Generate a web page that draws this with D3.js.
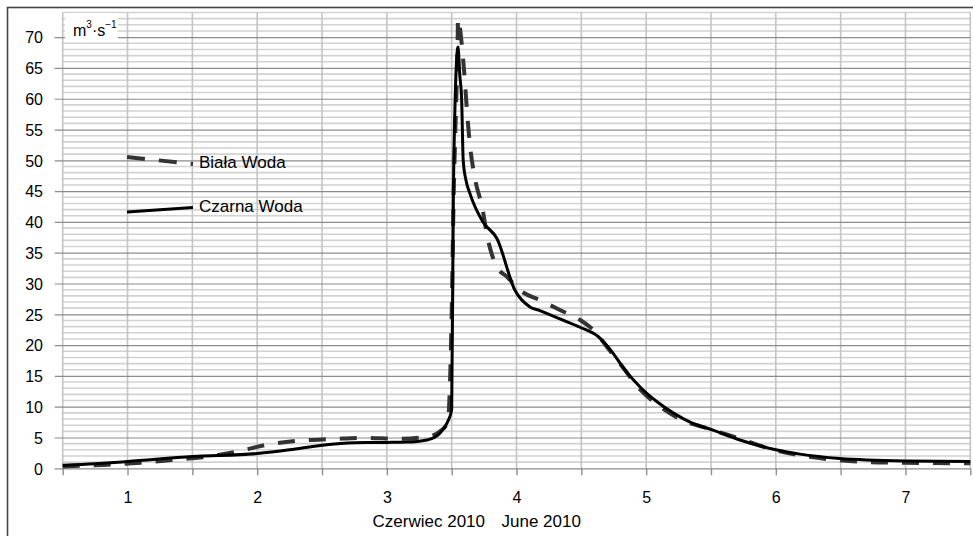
<!DOCTYPE html>
<html lang="pl">
<head>
    <meta charset="UTF-8">
    <title>Biała Woda / Czarna Woda - przepływ, czerwiec 2010</title>
    <script src="https://d3js.org/d3.v7.min.js"></script>
    <style>
        body {
            margin: 0;
            background: #fff;
        }

        svg text {
            font-family: "Liberation Sans", Arial, sans-serif;
            fill: #000;
        }

        .tick-label {
            font-size: 16px;
        }

        .legend-label,
        .axis-title {
            font-size: 17px;
        }

        .flow-line {
            fill: none;
            stroke-linejoin: round;
        }
    </style>
</head>
<body>
    <div id="chart"></div>

    <script>
        // Days of June 2010 shown on the x axis
        const dayTicks = [1, 2, 3, 4, 5, 6, 7];
        const yTicks = [0, 5, 10, 15, 20, 25, 30, 35, 40, 45, 50, 55, 60, 65, 70];

        // Biała Woda (dashed) - discharge m3/s
        const bialaDays = [0.5, 0.81, 1.10, 1.34, 1.58, 1.84, 2.08, 2.32, 2.58, 2.83, 3.08, 3.33, 3.41, 3.47,
            3.50, 3.515, 3.53, 3.545, 3.549, 3.577, 3.603, 3.618, 3.641, 3.68, 3.734, 3.78, 3.849, 3.927,
            4.027, 4.181, 4.335, 4.49, 4.59, 4.698, 4.798, 4.953, 5.107, 5.261, 5.5, 5.724, 6.0, 6.186,
            6.494, 6.725, 6.996, 7.5];
        const bialaFlow = [0.3, 0.55, 0.9, 1.35, 1.8, 2.7, 3.85, 4.5, 4.75, 4.95, 4.8, 5.2, 6.0, 7.5,
            25, 44, 56, 68, 73, 69, 62.5, 58, 52.5, 47, 42.5, 37.1, 32.7, 31.1,
            28.9, 27.3, 25.7, 24.1, 22.5, 19.7, 17, 12.8, 10.0, 8.0, 6.3, 4.8, 2.9, 2.1,
            1.3, 1.0, 0.9, 0.8];

        // Czarna Woda (solid) - discharge m3/s
        const czarnaDays = [0.5, 0.75, 1.0, 1.5, 2.0, 2.25, 2.5, 2.75, 3.0, 3.15, 3.31, 3.41, 3.47,
            3.50, 3.513, 3.527, 3.549, 3.562, 3.577, 3.589, 3.61, 3.641, 3.741, 3.849, 3.988, 4.104,
            4.18, 4.33, 4.49, 4.629, 4.744, 4.821, 4.953, 5.084, 5.208, 5.339, 5.516, 5.724, 6.0, 6.186,
            6.494, 6.996, 7.5];
        const czarnaFlow = [0.5, 0.75, 1.1, 1.9, 2.4, 3.0, 3.75, 4.15, 4.2, 4.25, 4.6, 5.7, 7.6,
            9.5, 44, 60, 68.4, 64, 59.8, 50, 46.8, 44.6, 40, 37.3, 28.9, 26.2,
            25.6, 24.3, 22.9, 21.4, 18.7, 16.4, 13.2, 10.8, 9.0, 7.5, 6.2, 4.6, 3.0, 2.3,
            1.6, 1.2, 1.1];

        const totalWidth = 973, totalHeight = 536;
        const plot = { left: 62.7, right: 970.3, top: 12.5, bottom: 468.3 };

        const svg = d3.select("#chart")
            .append("svg")
            .attr("width", totalWidth)
            .attr("height", totalHeight);

        // outer frame (runs off the right and bottom edge)
        svg.append("rect")
            .attr("x", 7.5)
            .attr("y", 7.5)
            .attr("width", 1000)
            .attr("height", 600)
            .attr("fill", "#fff")
            .attr("stroke", "#444")
            .attr("stroke-width", 1.6);

        const x = d3.scaleLinear().domain([0.5, 7.5]).range([plot.left, plot.right]);
        const y = d3.scaleLinear().domain([0, 74]).range([plot.bottom, plot.top]);

        // minor horizontal grid (every 1 m3/s)
        const grid = svg.append("g").attr("class", "grid");
        grid.selectAll(".minor")
            .data(d3.range(1, 75).filter(v => v % 5 !== 0))
            .join("line")
            .attr("class", "minor")
            .attr("x1", plot.left).attr("x2", plot.right)
            .attr("y1", d => y(d)).attr("y2", d => y(d))
            .attr("stroke", "#d2d2d2")
            .attr("stroke-width", 1.6);

        // vertical grid every half day
        grid.selectAll(".vgrid")
            .data(d3.range(0.5, 7.51, 0.5))
            .join("line")
            .attr("class", "vgrid")
            .attr("x1", d => x(d)).attr("x2", d => x(d))
            .attr("y1", plot.top).attr("y2", plot.bottom)
            .attr("stroke", "#c4c4c4")
            .attr("stroke-width", 1.6);

        // y axis: major lines double as gridlines, ticks stick out on the left
        const yAxis = d3.axisLeft(y)
            .tickValues(yTicks)
            .tickSize(plot.right - plot.left + 8)
            .tickPadding(12)
            .tickFormat(d3.format("d"));

        svg.append("g")
            .attr("transform", `translate(${plot.right},0)`)
            .call(yAxis)
            .call(g => g.select(".domain").remove())
            .call(g => g.selectAll("line").attr("stroke", "#8c8c8c").attr("stroke-width", 1.2))
            .call(g => g.selectAll("text")
                .attr("class", "tick-label")
                .attr("dy", "0.36em")
                .attr("x", -(plot.right - 43)));

        // x axis ticks every half day, labels on whole days
        const xAxis = d3.axisBottom(x)
            .tickValues(d3.range(0.5, 7.51, 0.5))
            .tickSize(7)
            .tickFormat(d => dayTicks.includes(d) ? d : "");

        svg.append("g")
            .attr("transform", `translate(0,${plot.bottom})`)
            .call(xAxis)
            .call(g => g.select(".domain").remove())
            .call(g => g.selectAll("line").attr("stroke", "#8c8c8c").attr("stroke-width", 1.4))
            .call(g => g.selectAll("text")
                .attr("class", "tick-label")
                .attr("y", 35)
                .attr("dy", 0));

        // series
        const line = (days, flow) => d3.line()
            .x(i => x(days[i]))
            .y(i => y(flow[i]))
            .curve(d3.curveMonotoneX)(d3.range(days.length));

        svg.append("path")
            .attr("class", "flow-line")
            .attr("d", line(bialaDays, bialaFlow))
            .attr("stroke", "#333")
            .attr("stroke-width", 4)
            .attr("stroke-dasharray", "17,14");

        svg.append("path")
            .attr("class", "flow-line")
            .attr("d", line(czarnaDays, czarnaFlow))
            .attr("stroke", "#000")
            .attr("stroke-width", 3);

        // unit label with white background
        svg.append("rect")
            .attr("x", 65).attr("y", 13)
            .attr("width", 53).attr("height", 26)
            .attr("fill", "#fff");

        const unit = svg.append("text")
            .attr("x", 73)
            .attr("y", 36)
            .style("font-size", "16px");
        unit.append("tspan").text("m");
        unit.append("tspan").attr("dy", -8).style("font-size", "10px").text("3");
        unit.append("tspan").attr("dy", 8).text("·s");
        unit.append("tspan").attr("dy", -8).style("font-size", "10px").text("−1");

        // legend
        const legend = svg.append("g").attr("class", "legend");

        legend.append("line")
            .attr("x1", 127).attr("y1", 157)
            .attr("x2", 193).attr("y2", 164)
            .attr("stroke", "#333")
            .attr("stroke-width", 4)
            .attr("stroke-dasharray", "18,14");
        legend.append("text")
            .attr("class", "legend-label")
            .attr("x", 199).attr("y", 168)
            .text("Biała Woda");

        legend.append("line")
            .attr("x1", 127).attr("y1", 212)
            .attr("x2", 193).attr("y2", 207.5)
            .attr("stroke", "#000")
            .attr("stroke-width", 3);
        legend.append("text")
            .attr("class", "legend-label")
            .attr("x", 199).attr("y", 212)
            .text("Czarna Woda");

        // x axis title
        svg.append("text")
            .attr("class", "axis-title")
            .attr("x", 485).attr("y", 527)
            .attr("text-anchor", "end")
            .text("Czerwiec 2010");
        svg.append("text")
            .attr("class", "axis-title")
            .attr("x", 501.5).attr("y", 527)
            .text("June 2010");
    </script>
</body>
</html>
